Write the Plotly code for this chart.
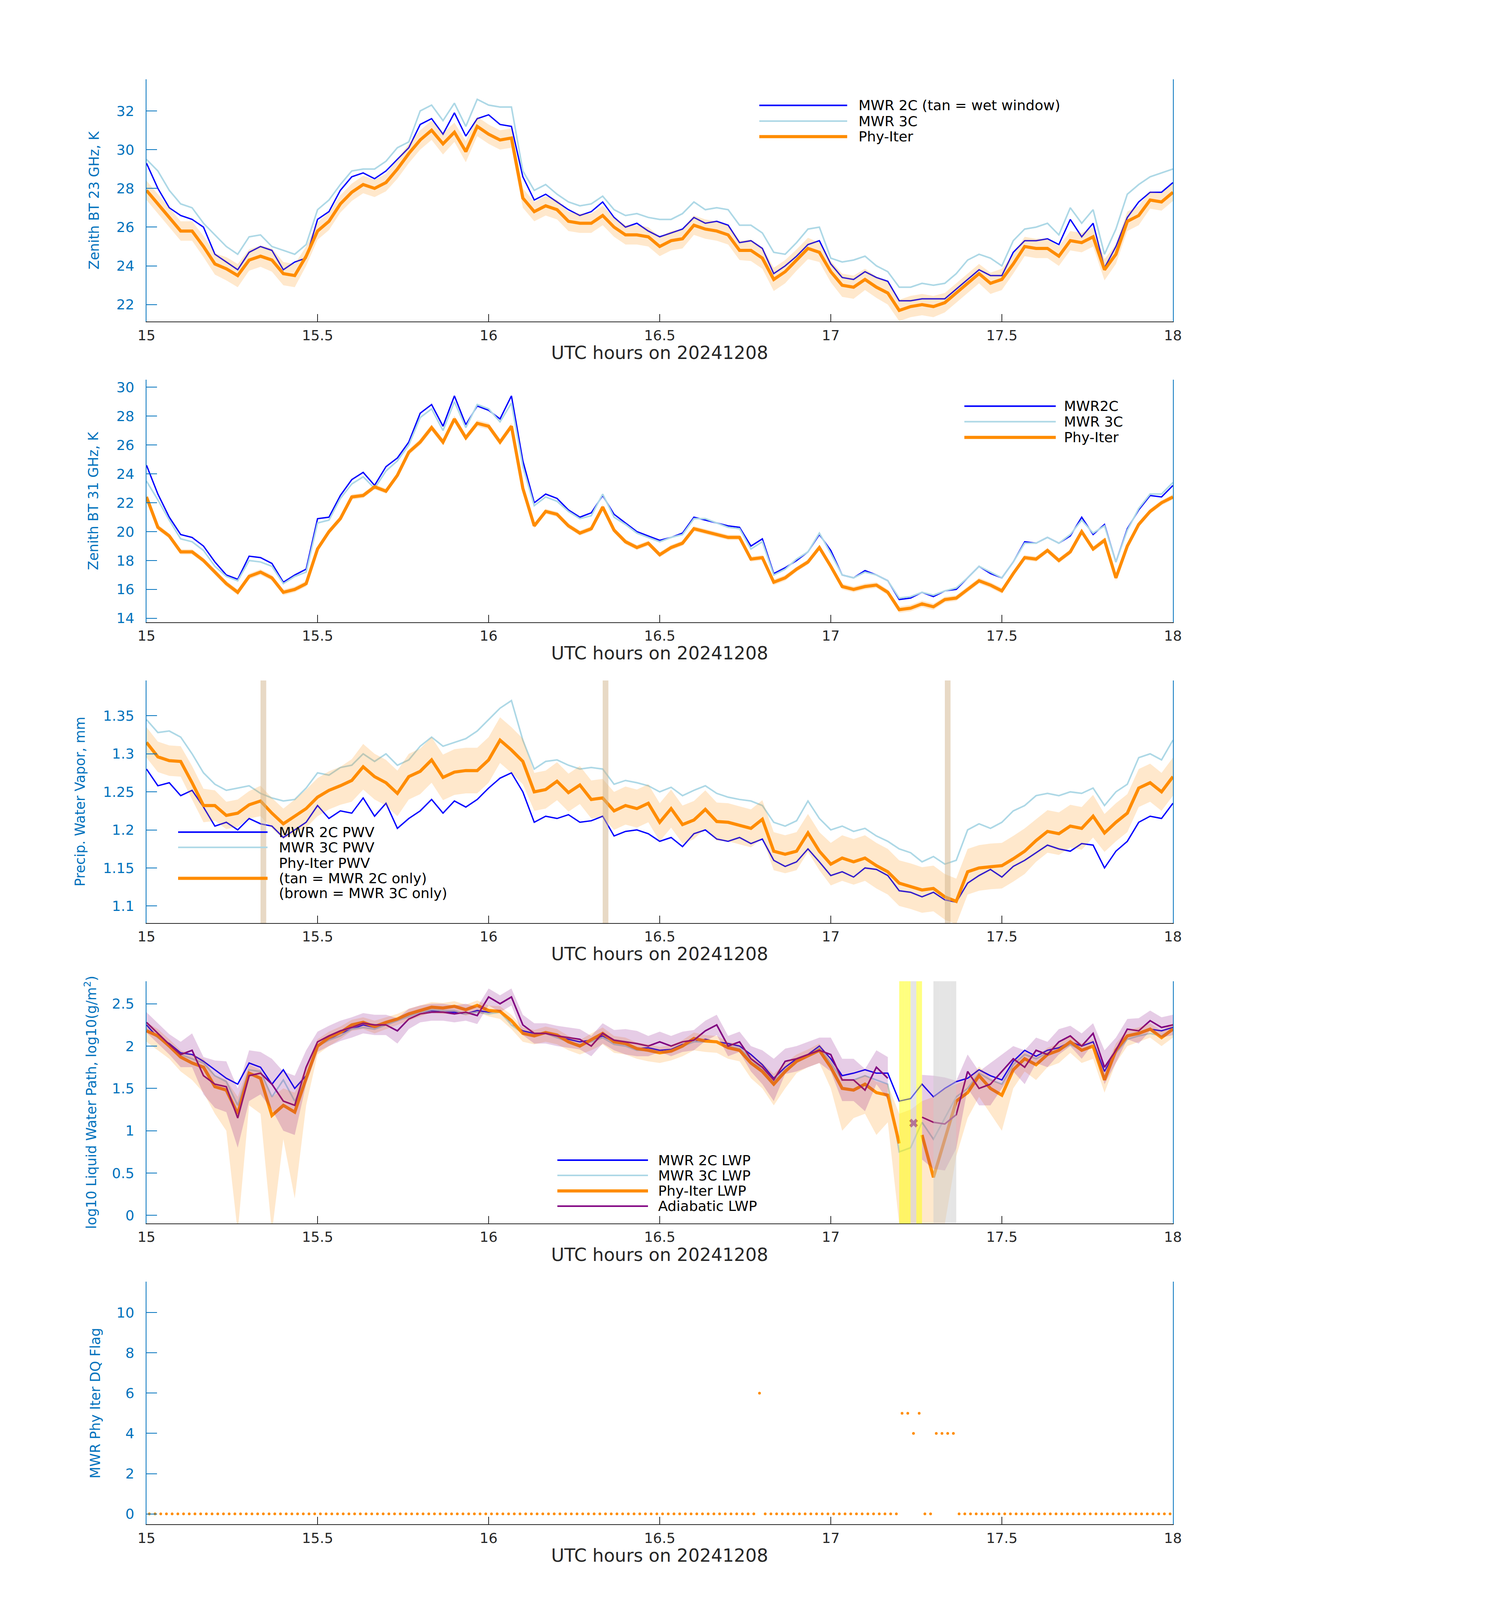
import plotly.graph_objects as go

# The browser only photographs about 4100 px of height, so the 3825 x 6000 reference
# layout is mapped onto a 3825 x 4107 page (vertical positions scaled by S).
W = 3825
REF_H = 6000
FH = 4107
S = FH / REF_H
PAD = 8  # default body margin of the html page

FONT = "DejaVu Sans"
AXBLUE = "#0072BD"
DARK = "#262626"
BLUE = "#0000FF"
LBLUE = "#ADD8E6"
ORANGE = "#FF8C00"
PURPLE = "#800080"

# ---------------- data (2-minute steps) ----------------
t_2min = [15 + k / 30 for k in range(91)]

# panel 1: zenith BT 23 GHz (K)
p1_mwr2c = [29.3, 28.0, 27.0, 26.6, 26.4, 26.0, 24.6, 24.2, 23.8, 24.7,
            25.0, 24.8, 23.8, 24.2, 24.4, 26.4, 26.8, 27.9, 28.6, 28.8,
            28.5, 28.9, 29.5, 30.1, 31.3, 31.6, 30.8, 31.9, 30.7, 31.6,
            31.8, 31.3, 31.2, 28.6, 27.4, 27.7, 27.3, 26.9, 26.6, 26.8,
            27.3, 26.5, 26.0, 26.2, 25.8, 25.5, 25.7, 25.9, 26.5, 26.2,
            26.3, 26.1, 25.2, 25.3, 24.9, 23.6, 24.0, 24.5, 25.1, 25.3,
            24.1, 23.4, 23.3, 23.7, 23.4, 23.2, 22.2, 22.2, 22.3, 22.3,
            22.3, 22.8, 23.3, 23.8, 23.5, 23.5, 24.7, 25.3, 25.3, 25.4,
            25.1, 26.4, 25.5, 26.2, 23.9, 25.0, 26.5, 27.3, 27.8, 27.8,
            28.3]
p1_mwr3c = [29.5, 28.9, 27.9, 27.2, 27.0, 26.2, 25.6, 25.0, 24.6, 25.5,
            25.6, 25.0, 24.8, 24.6, 25.1, 26.9, 27.4, 28.2, 28.9, 29.0,
            29.0, 29.4, 30.1, 30.4, 32.0, 32.3, 31.5, 32.4, 31.2, 32.6,
            32.3, 32.2, 32.2, 28.9, 27.9, 28.2, 27.7, 27.3, 27.1, 27.2,
            27.6, 26.9, 26.6, 26.7, 26.5, 26.4, 26.4, 26.7, 27.3, 26.9,
            27.0, 26.9, 26.1, 26.1, 25.7, 24.7, 24.6, 25.2, 25.9, 26.0,
            24.4, 24.2, 24.3, 24.5, 24.0, 23.7, 22.9, 22.9, 23.1, 23.0,
            23.1, 23.6, 24.3, 24.6, 24.4, 24.0, 25.3, 25.9, 26.0, 26.2,
            25.6, 27.0, 26.2, 26.9, 24.6, 25.9, 27.7, 28.2, 28.6, 28.8,
            29.0]
p1_phy = [27.9, 27.2, 26.5, 25.8, 25.8, 25.0, 24.1, 23.85, 23.5, 24.3,
          24.5, 24.3, 23.6, 23.5, 24.5, 25.8, 26.3, 27.2, 27.8, 28.2,
          28.0, 28.3, 29.0, 29.8, 30.5, 31.0, 30.3, 30.9, 29.9, 31.2,
          30.8, 30.5, 30.6, 27.5, 26.8, 27.1, 26.9, 26.3, 26.2, 26.2,
          26.6, 26.0, 25.6, 25.6, 25.5, 25.0, 25.3, 25.4, 26.1, 25.9,
          25.8, 25.6, 24.8, 24.8, 24.4, 23.3, 23.7, 24.3, 24.9, 24.7,
          23.7, 23.0, 22.9, 23.3, 22.9, 22.6, 21.7, 21.9, 22.0, 21.9,
          22.1, 22.6, 23.1, 23.6, 23.1, 23.3, 24.1, 25.0, 24.9, 24.9,
          24.5, 25.3, 25.2, 25.5, 23.8, 24.6, 26.3, 26.6, 27.4, 27.3,
          27.8]
p1_err = [0.5, 0.5, 0.5, 0.5, 0.5, 0.55, 0.55, 0.6, 0.6, 0.55,
          0.55, 0.6, 0.6, 0.6, 0.5, 0.45, 0.45, 0.45, 0.45, 0.45,
          0.45, 0.45, 0.5, 0.5, 0.5, 0.5, 0.55, 0.5, 0.55, 0.5,
          0.5, 0.5, 0.5, 0.5, 0.5, 0.5, 0.5, 0.5, 0.5, 0.5,
          0.5, 0.5, 0.5, 0.5, 0.5, 0.5, 0.5, 0.5, 0.5, 0.5,
          0.5, 0.5, 0.5, 0.55, 0.55, 0.6, 0.6, 0.55, 0.55, 0.5,
          0.55, 0.6, 0.6, 0.55, 0.55, 0.6, 0.55, 0.55, 0.55, 0.55,
          0.5, 0.5, 0.5, 0.5, 0.55, 0.55, 0.5, 0.5, 0.5, 0.5,
          0.5, 0.5, 0.5, 0.5, 0.55, 0.5, 0.5, 0.5, 0.45, 0.45,
          0.45]

# panel 2: zenith BT 31 GHz (K)
p2_mwr2c = [24.6, 22.6, 21.0, 19.8, 19.6, 19.0, 17.9, 17.0, 16.7, 18.3,
            18.2, 17.8, 16.5, 17.0, 17.4, 20.9, 21.0, 22.5, 23.6, 24.1,
            23.2, 24.5, 25.1, 26.2, 28.2, 28.8, 27.3, 29.4, 27.4, 28.7,
            28.4, 27.8, 29.4, 24.9, 22.0, 22.6, 22.3, 21.5, 21.0, 21.3,
            22.5, 21.2, 20.6, 20.0, 19.7, 19.4, 19.6, 19.9, 21.0, 20.8,
            20.6, 20.4, 20.3, 19.0, 19.5, 17.1, 17.5, 18.0, 18.6, 19.8,
            18.7, 17.0, 16.8, 17.3, 17.0, 16.6, 15.3, 15.4, 15.8, 15.5,
            15.9, 16.0, 16.8, 17.6, 17.1, 16.8, 17.9, 19.3, 19.2, 19.6,
            19.2, 19.7, 21.0, 19.8, 20.5, 17.9, 20.2, 21.5, 22.5, 22.4,
            23.2]
p2_mwr3c = [23.5, 22.2, 20.8, 19.5, 19.3, 18.7, 17.6, 16.9, 16.6, 18.0,
            17.9, 17.6, 16.4, 16.9, 17.2, 20.6, 20.8, 22.3, 23.3, 23.8,
            23.0, 24.2, 24.9, 26.0, 27.9, 28.5, 27.0, 29.0, 27.2, 28.8,
            28.5, 27.6, 28.9, 24.5, 21.8, 22.4, 22.1, 21.4, 20.9, 21.1,
            22.6, 21.0, 20.5, 19.9, 19.6, 19.3, 19.6, 19.8, 20.9, 20.9,
            20.6, 20.3, 20.2, 18.8, 19.3, 17.0, 17.4, 18.1, 18.6, 19.9,
            18.5, 17.0, 16.8, 17.2, 17.0, 16.6, 15.4, 15.5, 15.8, 15.6,
            15.9, 16.1, 16.8, 17.6, 17.2, 16.8, 17.9, 19.2, 19.2, 19.6,
            19.2, 19.8, 20.8, 19.9, 20.4, 17.9, 20.1, 21.6, 22.6, 22.6,
            23.4]
p2_phy = [22.4, 20.3, 19.7, 18.6, 18.6, 18.0, 17.2, 16.4, 15.8, 16.9,
          17.2, 16.8, 15.8, 16.0, 16.4, 18.8, 20.0, 20.9, 22.4, 22.5,
          23.1, 22.8, 23.9, 25.5, 26.2, 27.2, 26.2, 27.8, 26.5, 27.5,
          27.3, 26.2, 27.3, 23.0, 20.4, 21.4, 21.2, 20.4, 19.9, 20.2,
          21.7, 20.1, 19.3, 18.9, 19.2, 18.4, 18.9, 19.2, 20.2, 20.0,
          19.8, 19.6, 19.6, 18.1, 18.2, 16.5, 16.8, 17.4, 17.9, 18.9,
          17.6, 16.2, 16.0, 16.2, 16.3, 15.8, 14.6, 14.7, 15.0, 14.8,
          15.3, 15.4, 16.0, 16.6, 16.3, 15.9, 17.1, 18.2, 18.1, 18.7,
          18.0, 18.6, 20.0, 18.8, 19.4, 16.8, 19.0, 20.5, 21.4, 22.0,
          22.4]
p2_err = [0.2, 0.2, 0.18, 0.18, 0.18, 0.18, 0.2, 0.2, 0.2, 0.2,
          0.2, 0.2, 0.2, 0.2, 0.2, 0.18, 0.18, 0.18, 0.18, 0.18,
          0.18, 0.18, 0.2, 0.2, 0.22, 0.22, 0.22, 0.22, 0.22, 0.22,
          0.22, 0.22, 0.22, 0.2, 0.18, 0.18, 0.18, 0.18, 0.18, 0.18,
          0.18, 0.18, 0.18, 0.18, 0.18, 0.18, 0.18, 0.18, 0.18, 0.18,
          0.18, 0.18, 0.18, 0.18, 0.18, 0.2, 0.2, 0.18, 0.18, 0.18,
          0.18, 0.2, 0.2, 0.2, 0.2, 0.2, 0.22, 0.22, 0.22, 0.22,
          0.2, 0.2, 0.2, 0.2, 0.2, 0.2, 0.18, 0.18, 0.18, 0.18,
          0.18, 0.18, 0.18, 0.18, 0.2, 0.2, 0.18, 0.18, 0.18, 0.18,
          0.18]

# panel 3: precipitable water vapour (mm)
p3_mwr2c = [1.280, 1.258, 1.262, 1.245, 1.252, 1.230, 1.205, 1.210, 1.200, 1.215,
            1.208, 1.205, 1.190, 1.200, 1.210, 1.232, 1.215, 1.225, 1.222, 1.242,
            1.218, 1.235, 1.202, 1.215, 1.225, 1.240, 1.222, 1.238, 1.230, 1.240,
            1.255, 1.268, 1.275, 1.250, 1.210, 1.218, 1.215, 1.220, 1.210, 1.212,
            1.218, 1.192, 1.198, 1.200, 1.195, 1.185, 1.190, 1.178, 1.195, 1.200,
            1.188, 1.185, 1.190, 1.182, 1.188, 1.160, 1.152, 1.158, 1.175, 1.158,
            1.140, 1.145, 1.138, 1.150, 1.148, 1.140, 1.120, 1.118, 1.112, 1.118,
            1.108, 1.105, 1.130, 1.140, 1.148, 1.138, 1.152, 1.160, 1.170, 1.180,
            1.175, 1.172, 1.182, 1.180, 1.150, 1.172, 1.185, 1.210, 1.218, 1.215,
            1.235]
p3_mwr3c = [1.345, 1.328, 1.330, 1.322, 1.300, 1.275, 1.260, 1.252, 1.255, 1.258,
            1.248, 1.242, 1.238, 1.240, 1.255, 1.275, 1.272, 1.282, 1.285, 1.300,
            1.290, 1.300, 1.285, 1.292, 1.310, 1.322, 1.310, 1.315, 1.320, 1.330,
            1.345, 1.360, 1.370, 1.318, 1.280, 1.290, 1.292, 1.285, 1.280, 1.282,
            1.280, 1.260, 1.265, 1.262, 1.258, 1.250, 1.256, 1.245, 1.252, 1.258,
            1.248, 1.243, 1.240, 1.238, 1.232, 1.210, 1.205, 1.212, 1.238, 1.215,
            1.200, 1.205, 1.198, 1.202, 1.192, 1.185, 1.175, 1.170, 1.158, 1.165,
            1.155, 1.160, 1.200, 1.208, 1.202, 1.210, 1.225, 1.232, 1.245, 1.248,
            1.245, 1.250, 1.248, 1.255, 1.232, 1.250, 1.260, 1.295, 1.300, 1.292,
            1.318]
p3_phy = [1.315, 1.296, 1.291, 1.290, 1.262, 1.232, 1.232, 1.219, 1.222, 1.233,
          1.238, 1.222, 1.208, 1.218, 1.228, 1.243, 1.252, 1.258, 1.265, 1.283,
          1.270, 1.262, 1.248, 1.270, 1.277, 1.292, 1.269, 1.276, 1.278, 1.278,
          1.292, 1.318, 1.305, 1.290, 1.250, 1.253, 1.264, 1.249, 1.259, 1.240,
          1.242, 1.225, 1.232, 1.228, 1.235, 1.210, 1.228, 1.207, 1.213, 1.227,
          1.211, 1.210, 1.206, 1.202, 1.214, 1.172, 1.168, 1.172, 1.196, 1.172,
          1.155, 1.163, 1.158, 1.163, 1.153, 1.145, 1.130, 1.126, 1.121, 1.123,
          1.112, 1.106, 1.145, 1.150, 1.152, 1.153, 1.162, 1.172, 1.186, 1.198,
          1.195, 1.205, 1.202, 1.218, 1.196, 1.210, 1.222, 1.255, 1.262, 1.250,
          1.270]
p3_err = [0.02, 0.02, 0.02, 0.02, 0.022, 0.022, 0.02, 0.018, 0.018, 0.018,
          0.02, 0.02, 0.02, 0.022, 0.025, 0.025, 0.025, 0.025, 0.028, 0.03,
          0.03, 0.03, 0.03, 0.03, 0.03, 0.03, 0.03, 0.03, 0.03, 0.03,
          0.03, 0.03, 0.03, 0.03, 0.025, 0.025, 0.025, 0.025, 0.025, 0.025,
          0.025, 0.025, 0.025, 0.025, 0.025, 0.025, 0.025, 0.025, 0.025, 0.025,
          0.025, 0.025, 0.025, 0.025, 0.025, 0.025, 0.025, 0.025, 0.025, 0.025,
          0.028, 0.03, 0.03, 0.03, 0.03, 0.03, 0.03, 0.03, 0.03, 0.03,
          0.03, 0.03, 0.03, 0.03, 0.03, 0.03, 0.03, 0.03, 0.028, 0.028,
          0.028, 0.028, 0.028, 0.028, 0.025, 0.025, 0.025, 0.025, 0.025, 0.025,
          0.025]
p3_tan_minutes = [20, 80, 140]

# panel 4: log10 liquid water path
p4_mwr2c = [2.25, 2.10, 2.03, 1.92, 1.90, 1.82, 1.72, 1.62, 1.55, 1.80,
            1.75, 1.55, 1.72, 1.50, 1.65, 2.00, 2.08, 2.15, 2.20, 2.25,
            2.22, 2.25, 2.30, 2.35, 2.40, 2.42, 2.40, 2.40, 2.38, 2.42,
            2.40, 2.42, 2.25, 2.18, 2.15, 2.15, 2.10, 2.08, 2.05, 2.07,
            2.12, 2.05, 2.02, 1.97, 1.98, 1.95, 1.96, 2.02, 2.05, 2.08,
            2.05, 2.03, 2.00, 1.90, 1.78, 1.62, 1.75, 1.85, 1.90, 2.00,
            1.85, 1.65, 1.68, 1.72, 1.68, 1.68, 1.35, 1.38, 1.55, 1.40,
            1.50, 1.58, 1.62, 1.72, 1.65, 1.60, 1.82, 1.95, 1.88, 1.95,
            1.98, 2.05, 2.00, 2.05, 1.70, 1.95, 2.12, 2.15, 2.20, 2.18,
            2.22]
p4_mwr3c = [2.20, 2.10, 2.00, 1.90, 1.85, 1.80, 1.65, 1.58, 1.30, 1.72,
            1.70, 1.40, 1.60, 1.35, 1.60, 2.00, 2.07, 2.12, 2.20, 2.22,
            2.20, 2.25, 2.30, 2.35, 2.40, 2.43, 2.42, 2.42, 2.38, 2.40,
            2.38, 2.40, 2.25, 2.15, 2.12, 2.15, 2.10, 2.05, 2.02, 2.05,
            2.10, 2.02, 2.00, 1.95, 1.95, 1.93, 1.95, 2.00, 2.05, 2.05,
            2.05, 2.00, 1.97, 1.85, 1.72, 1.58, 1.72, 1.82, 1.88, 1.98,
            1.80, 1.60, 1.60, 1.65, 1.60, 1.55, 0.75, 0.80, 1.10, 0.90,
            1.15, 1.40, 1.50, 1.68, 1.60, 1.55, 1.78, 1.90, 1.85, 1.92,
            1.95, 2.02, 1.95, 2.00, 1.62, 1.92, 2.08, 2.12, 2.15, 2.12,
            2.20]
p4_phy = [2.18, 2.12, 2.00, 1.87, 1.80, 1.75, 1.52, 1.48, 1.20, 1.68,
          1.62, 1.18, 1.30, 1.22, 1.62, 2.00, 2.10, 2.16, 2.25, 2.28,
          2.23, 2.28, 2.32, 2.38, 2.42, 2.46, 2.45, 2.47, 2.43, 2.48,
          2.42, 2.41, 2.30, 2.15, 2.12, 2.16, 2.13, 2.05, 2.00, 2.08,
          2.15, 2.05, 2.03, 1.97, 1.95, 1.92, 1.94, 2.00, 2.09, 2.06,
          2.05, 1.98, 1.95, 1.80, 1.70, 1.55, 1.70, 1.82, 1.88, 1.95,
          1.75, 1.50, 1.48, 1.55, 1.45, 1.42, 0.85, None, 0.95, 0.45,
          0.90, 1.35, 1.45, 1.65, 1.50, 1.42, 1.72, 1.85, 1.78, 1.90,
          1.95, 2.05, 1.95, 2.00, 1.60, 1.95, 2.12, 2.15, 2.20, 2.10,
          2.20]
p4_phy_hi = [2.28, 2.20, 2.08, 1.95, 1.90, 1.85, 1.65, 1.60, 1.40, 1.78,
             1.72, 1.40, 1.50, 1.45, 1.75, 2.08, 2.17, 2.23, 2.31, 2.34,
             2.30, 2.34, 2.38, 2.44, 2.48, 2.52, 2.51, 2.53, 2.49, 2.54,
             2.48, 2.47, 2.37, 2.22, 2.19, 2.23, 2.20, 2.12, 2.07, 2.15,
             2.22, 2.12, 2.10, 2.04, 2.02, 1.99, 2.01, 2.07, 2.16, 2.13,
             2.12, 2.05, 2.02, 1.90, 1.80, 1.67, 1.80, 1.90, 1.96, 2.03,
             1.85, 1.62, 1.60, 1.66, 1.58, 1.55, 1.20, 1.25, 1.35, 1.40,
             1.50, 1.55, 1.60, 1.76, 1.62, 1.55, 1.82, 1.93, 1.87, 1.98,
             2.03, 2.12, 2.03, 2.08, 1.72, 2.03, 2.19, 2.22, 2.27, 2.18,
             2.27]
p4_phy_lo = [2.05, 1.95, 1.85, 1.70, 1.60, 1.45, 1.20, 1.00, -0.20, 1.30,
             1.20, -0.20, 0.90, 0.20, 1.30, 1.90, 2.00, 2.08, 2.18, 2.20,
             2.15, 2.20, 2.25, 2.30, 2.35, 2.40, 2.38, 2.40, 2.36, 2.40,
             2.35, 2.32, 2.20, 2.05, 2.02, 2.05, 2.02, 1.95, 1.90, 1.95,
             2.02, 1.92, 1.90, 1.85, 1.82, 1.80, 1.83, 1.88, 1.95, 1.93,
             1.92, 1.85, 1.82, 1.62, 1.50, 1.30, 1.50, 1.68, 1.75, 1.80,
             1.50, 1.00, 1.15, 1.20, 0.95, 1.10, -0.10, -0.10, -0.10, -0.10,
             -0.10, 0.70, 1.15, 1.40, 1.20, 1.00, 1.50, 1.70, 1.60, 1.75,
             1.80, 1.92, 1.80, 1.85, 1.45, 1.80, 2.00, 2.05, 2.10, 2.00,
             2.10]
p4_adi = [2.28, 2.15, 2.02, 1.90, 1.95, 1.65, 1.55, 1.52, 1.15, 1.65,
          1.68, 1.55, 1.35, 1.30, 1.75, 2.05, 2.12, 2.18, 2.22, 2.27,
          2.25, 2.25, 2.18, 2.32, 2.38, 2.40, 2.40, 2.38, 2.40, 2.36,
          2.58, 2.50, 2.58, 2.25, 2.15, 2.15, 2.12, 2.10, 2.08, 2.00,
          2.15, 2.07, 2.05, 2.03, 2.00, 2.05, 2.00, 2.05, 2.07, 2.18,
          2.25, 2.00, 2.05, 1.85, 1.75, 1.60, 1.82, 1.85, 1.90, 1.95,
          1.90, 1.60, 1.60, 1.48, 1.75, 1.62, None, None, 1.16, 1.10,
          1.08, 1.19, 1.70, 1.50, 1.55, 1.70, 1.85, 1.75, 1.95, 1.90,
          2.05, 2.12, 2.00, 2.15, 1.75, 1.95, 2.20, 2.18, 2.30, 2.22,
          2.25]
p4_adi_err = [0.12, 0.12, 0.12, 0.15, 0.2, 0.22, 0.28, 0.3, 0.35, 0.3,
              0.25, 0.3, 0.35, 0.35, 0.2, 0.12, 0.12, 0.12, 0.12, 0.12,
              0.12, 0.12, 0.15, 0.12, 0.1, 0.1, 0.1, 0.1, 0.1, 0.1,
              0.1, 0.1, 0.1, 0.12, 0.12, 0.12, 0.12, 0.12, 0.12, 0.12,
              0.12, 0.12, 0.15, 0.15, 0.12, 0.12, 0.12, 0.12, 0.12, 0.12,
              0.12, 0.12, 0.12, 0.15, 0.2, 0.25, 0.15, 0.15, 0.15, 0.15,
              0.2, 0.25, 0.25, 0.25, 0.2, 0.25, None, None, 0.5, 0.55,
              0.55, 0.4, 0.2, 0.2, 0.25, 0.2, 0.15, 0.2, 0.15, 0.15,
              0.15, 0.12, 0.15, 0.12, 0.2, 0.15, 0.12, 0.15, 0.12, 0.12,
              0.12]
p4_adi_x_t = [17.242]
p4_adi_x_v = [1.09]

# panel 5: Phy-Iter data-quality flag, one per minute
t_1min = [15 + (i + 0.5) / 60 for i in range(180)]
dq_flag = [0, 0, 0, 0, 0, 0, 0, 0, 0, 0, 0, 0, 0, 0, 0, 0, 0, 0, 0, 0,
           0, 0, 0, 0, 0, 0, 0, 0, 0, 0, 0, 0, 0, 0, 0, 0, 0, 0, 0, 0,
           0, 0, 0, 0, 0, 0, 0, 0, 0, 0, 0, 0, 0, 0, 0, 0, 0, 0, 0, 0,
           0, 0, 0, 0, 0, 0, 0, 0, 0, 0, 0, 0, 0, 0, 0, 0, 0, 0, 0, 0,
           0, 0, 0, 0, 0, 0, 0, 0, 0, 0, 0, 0, 0, 0, 0, 0, 0, 0, 0, 0,
           0, 0, 0, 0, 0, 0, 0, 6, 0, 0, 0, 0, 0, 0, 0, 0, 0, 0, 0, 0,
           0, 0, 0, 0, 0, 0, 0, 0, 0, 0, 0, 0, 5, 5, 4, 5, 0, 0, 4, 4,
           4, 4, 0, 0, 0, 0, 0, 0, 0, 0, 0, 0, 0, 0, 0, 0, 0, 0, 0, 0,
           0, 0, 0, 0, 0, 0, 0, 0, 0, 0, 0, 0, 0, 0, 0, 0, 0, 0, 0, 0]

x_ticks = [15, 15.5, 16, 16.5, 17, 17.5, 18]
x_tick_text = ["15", "15.5", "16", "16.5", "17", "17.5", "18"]


# reference-pixel -> paper coordinates
def PX(p):
    return (p - PAD) / W


def PY(p):
    return 1 - (S * p - PAD) / FH


# ---------------- figure ----------------
fig = go.Figure()

panels_px = [(296, 1203), (1420, 2327), (2545, 3452), (3670, 4576), (4794, 5701)]
X0, X1 = PX(375), PX(3003)


def sfx(i):
    return "" if i == 1 else str(i)


def add_line(i, x, y, color, width):
    fig.add_trace(go.Scatter(x=x, y=y, mode="lines", line=dict(color=color, width=width),
                             xaxis="x" + sfx(i), yaxis="y" + sfx(i), showlegend=False,
                             hoverinfo="skip", connectgaps=False))


def add_band(i, x, lo, hi, color):
    # split into runs where the band is defined
    runs, cur = [], []
    for xx, a, b in zip(x, lo, hi):
        if a is None or b is None:
            if cur:
                runs.append(cur)
            cur = []
        else:
            cur.append((xx, a, b))
    if cur:
        runs.append(cur)
    for r in runs:
        xs = [p[0] for p in r]
        ys_hi = [p[2] for p in r]
        ys_lo = [p[1] for p in r]
        fig.add_trace(go.Scatter(x=xs + xs[::-1], y=ys_hi + ys_lo[::-1], mode="lines",
                                 fill="toself", fillcolor=color, line=dict(width=0),
                                 xaxis="x" + sfx(i), yaxis="y" + sfx(i), showlegend=False,
                                 hoverinfo="skip"))


def pm(v, e, sign):
    return [None if (a is None or b is None) else a + sign * b for a, b in zip(v, e)]


BAND_OR = "rgba(255,140,0,0.2)"
BAND_PU = "rgba(128,0,128,0.2)"

# panel 1
add_line(1, t_2min, p1_mwr2c, BLUE, 3.5)
add_line(1, t_2min, p1_mwr3c, LBLUE, 4)
add_line(1, t_2min, p1_phy, ORANGE, 8)
add_band(1, t_2min, pm(p1_phy, p1_err, -1), pm(p1_phy, p1_err, 1), BAND_OR)

# panel 2
add_line(2, t_2min, p2_mwr2c, BLUE, 3.5)
add_line(2, t_2min, p2_mwr3c, LBLUE, 4)
add_line(2, t_2min, p2_phy, ORANGE, 8)
add_band(2, t_2min, pm(p2_phy, p2_err, -1), pm(p2_phy, p2_err, 1), BAND_OR)

# panel 3
add_line(3, t_2min, p3_mwr2c, BLUE, 3.5)
add_line(3, t_2min, p3_mwr3c, LBLUE, 4)
add_line(3, t_2min, p3_phy, ORANGE, 8)
add_band(3, t_2min, pm(p3_phy, p3_err, -1), pm(p3_phy, p3_err, 1), BAND_OR)
for m in p3_tan_minutes:
    fig.add_shape(type="rect", xref="x3", yref="y3 domain", x0=15 + m / 60, x1=15 + (m + 1) / 60,
                  y0=0, y1=1, fillcolor="rgba(210,180,140,0.5)", line=dict(width=0), layer="above")

# panel 4
add_line(4, t_2min, p4_mwr2c, BLUE, 3.5)
add_line(4, t_2min, p4_mwr3c, LBLUE, 4)
add_line(4, t_2min, p4_phy, ORANGE, 8)
add_line(4, t_2min, p4_adi, PURPLE, 4)
fig.add_trace(go.Scatter(x=p4_adi_x_t, y=p4_adi_x_v, mode="markers",
                         marker=dict(symbol="x", size=20, color=PURPLE, line=dict(width=0)),
                         xaxis="x4", yaxis="y4", showlegend=False, hoverinfo="skip"))
add_band(4, t_2min, p4_phy_lo, p4_phy_hi, BAND_OR)
add_band(4, t_2min, pm(p4_adi, p4_adi_err, -1), pm(p4_adi, p4_adi_err, 1), BAND_PU)
for i, f in enumerate(dq_flag):
    if f in (4, 5):
        col = "rgba(255,255,0,0.5)" if f == 5 else "rgba(204,204,204,0.5)"
        fig.add_shape(type="rect", xref="x4", yref="y4 domain", x0=15 + i / 60, x1=15 + (i + 1) / 60,
                      y0=0, y1=1, fillcolor=col, line=dict(width=0), layer="above")

# panel 5
fig.add_trace(go.Scatter(x=t_1min, y=dq_flag, mode="markers",
                         marker=dict(size=7, color=ORANGE, line=dict(width=0)),
                         xaxis="x5", yaxis="y5", showlegend=False, hoverinfo="skip"))

# ---------------- axes ----------------
y_specs = [
    ([21.12, 33.64], [22, 24, 26, 28, 30, 32], ["22", "24", "26", "28", "30", "32"]),
    ([13.73, 30.52], [14, 16, 18, 20, 22, 24, 26, 28, 30],
     ["14", "16", "18", "20", "22", "24", "26", "28", "30"]),
    ([1.0776, 1.3964], [1.1, 1.15, 1.2, 1.25, 1.3, 1.35], ["1.1", "1.15", "1.2", "1.25", "1.3", "1.35"]),
    ([-0.096, 2.765], [0, 0.5, 1, 1.5, 2, 2.5], ["0", "0.5", "1", "1.5", "2", "2.5"]),
    ([-0.52, 11.53], [0, 2, 4, 6, 8, 10], ["0", "2", "4", "6", "8", "10"]),
]
y_titles = ["Zenith BT 23 GHz, K", "Zenith BT 31 GHz, K", "Precip. Water Vapor, mm",
            "log10 Liquid Water Path, log10(g/m<sup>2</sup>)", "MWR Phy Iter DQ Flag"]
y_title_x = [241, 239, 205, 232, 244]

TICK_FS = 36
XTITLE_FS = 46
YTITLE_FS = 35
LEG_FS = 36

layout = {}
annotations = []
for i, ((top, bot), (yr, yt, ytt)) in enumerate(zip(panels_px, y_specs), start=1):
    s = sfx(i)
    layout["xaxis" + s] = dict(domain=[X0, X1], anchor="y" + s, range=[15, 18],
                               tickvals=x_ticks, ticktext=x_tick_text, ticks="inside", ticklen=19,
                               tickwidth=2, tickcolor=DARK, showline=True, linecolor=DARK,
                               linewidth=2, mirror=False, showgrid=False, zeroline=False,
                               tickfont=dict(size=TICK_FS, color=DARK, family=FONT),
                               ticklabelstandoff=2, automargin=False)
    layout["yaxis" + s] = dict(domain=[PY(bot), PY(top)], anchor="x" + s, range=yr,
                               tickvals=yt, ticktext=ytt, ticks="inside", ticklen=27, tickwidth=2,
                               tickcolor=AXBLUE, showline=True, linecolor=AXBLUE, linewidth=2,
                               mirror=True, showgrid=False, zeroline=False,
                               tickfont=dict(size=TICK_FS, color=AXBLUE, family=FONT),
                               ticklabelstandoff=22, automargin=False)
    annotations.append(dict(text="UTC hours on 20241208", x=PX(1689), y=PY(bot + 116),
                            xref="paper", yref="paper", xanchor="center", yanchor="middle",
                            showarrow=False, font=dict(size=XTITLE_FS, color=DARK, family=FONT)))
    annotations.append(dict(text=y_titles[i - 1], x=PX(y_title_x[i - 1]), y=PY((top + bot) / 2),
                            xref="paper", yref="paper", xanchor="center", yanchor="middle",
                            textangle=-90, showarrow=False,
                            font=dict(size=YTITLE_FS, color=AXBLUE, family=FONT)))

# ---------------- legends (drawn by hand, MATLAB style, no box) ----------------
legends = [
    (1944, 2169, 2196,
     [(BLUE, 4, 394), (LBLUE, 4, 453), (ORANGE, 8, 511)],
     [("MWR 2C (tan = wet window)", 394), ("MWR 3C", 453), ("Phy-Iter", 511)]),
    (2469, 2703, 2722,
     [(BLUE, 4, 1519), (LBLUE, 4, 1577), (ORANGE, 8, 1636)],
     [("MWR2C", 1519), ("MWR 3C", 1577), ("Phy-Iter", 1636)]),
    (456, 685, 712,
     [(BLUE, 4, 3112), (LBLUE, 4, 3169), (ORANGE, 8, 3285)],
     [("MWR 2C PWV", 3112), ("MWR 3C PWV", 3169), ("Phy-Iter PWV", 3228),
      ("(tan = MWR 2C only)", 3285), ("(brown = MWR 3C only)", 3340)]),
    (1427, 1659, 1683,
     [(BLUE, 4, 4339), (LBLUE, 4, 4396), (ORANGE, 8, 4454), (PURPLE, 4, 4511)],
     [("MWR 2C LWP", 4339), ("MWR 3C LWP", 4396), ("Phy-Iter LWP", 4454), ("Adiabatic LWP", 4511)]),
]
for xl0, xl1, xt, samples, texts in legends:
    for col, wid, yp in samples:
        fig.add_shape(type="line", xref="paper", yref="paper", x0=PX(xl0), x1=PX(xl1),
                      y0=PY(yp), y1=PY(yp), line=dict(color=col, width=wid), layer="above")
    for txt, yp in texts:
        annotations.append(dict(text=txt, x=PX(xt), y=PY(yp), xref="paper", yref="paper",
                                xanchor="left", yanchor="middle", showarrow=False,
                                font=dict(size=LEG_FS, color="#000000", family=FONT)))

fig.update_layout(width=W, height=FH, margin=dict(l=0, r=0, t=0, b=0),
                  paper_bgcolor="white", plot_bgcolor="white", showlegend=False,
                  font=dict(family=FONT), annotations=annotations, **layout)

fig.write_html("out.html")
